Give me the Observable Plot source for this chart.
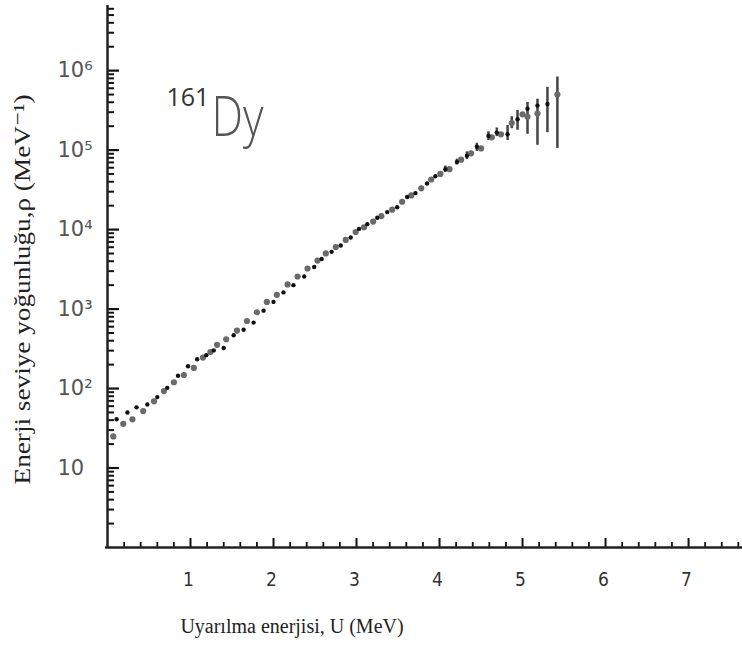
<!DOCTYPE html>
<html>
<head>
<meta charset="utf-8">
<script src="https://cdn.jsdelivr.net/npm/d3@7"></script>
<script src="https://cdn.jsdelivr.net/npm/@observablehq/plot@0.6"></script>
<style>
  html, body { margin: 0; padding: 0; background: #fff; }
  #chart svg { display: block; background: #fff; }
</style>
</head>
<body>
<div id="chart"></div>
<script>
// Excitation energy U (MeV) and level density rho (MeV^-1)
const U = [0.07,0.11,0.19,0.24,0.30,0.35,0.43,0.48,0.56,0.60,0.68,0.72,0.80,0.85,0.92,0.97,1.04,1.08,1.15,1.19,1.24,1.28,1.32,1.40,1.43,1.52,1.56,1.64,1.68,1.76,1.80,1.88,1.92,2.00,2.04,2.12,2.17,2.24,2.29,2.37,2.41,2.49,2.53,2.58,2.63,2.70,2.75,2.81,2.87,2.93,2.99,3.03,3.09,3.13,3.20,3.25,3.30,3.37,3.43,3.49,3.55,3.61,3.66,3.71,3.78,3.85,3.90,3.95,4.01,4.07,4.12,4.21,4.26,4.33,4.38,4.45,4.50,4.59,4.63,4.69,4.74,4.82,4.87,4.94,5.00,5.06,5.06,5.18,5.18,5.30,5.42];
const rho = [25,41,36,50,41,58,52,63,69,78,93,102,120,145,148,191,182,234,245,263,288,302,355,324,417,468,537,550,708,676,912,955,1230,1230,1510,1620,2040,2000,2570,2570,3240,3390,4070,4270,5010,5250,6030,6310,7410,7940,9330,10200,10700,11700,12600,14100,14800,16600,17800,19100,22400,25700,26900,28800,33100,38000,42700,46800,50100,57500,57500,70800,75900,85100,91200,110000,105000,151000,145000,166000,158000,158000,219000,245000,282000,331000,263000,363000,288000,380000,501000];

// Error bars (lower / upper bounds, MeV^-1)
const errU  = [4.07,4.21,4.33,4.45,4.59,4.69,4.82,4.87,4.94,5.06,5.18,5.30,5.42];
const errLo = [52500,65000,76000,96000,132000,148000,132000,186000,178000,158000,115000,166000,105000];
const errHi = [63000,77000,95000,122000,170000,190000,204000,263000,316000,398000,437000,617000,832000];

// Axis ticks and labels
const xTicks = [1,2,3,4,5,6,7];
const yTicks = [10,100,1000,10000,100000,1000000];
const yTickLabels = ["10","10²","10³","10⁴","10⁵","10⁶"];
const yTitle = "Enerji seviye yoğunluğu,ρ (MeV⁻¹)";
const xTitle = "Uyarılma enerjisi, U (MeV)";

const points = U.map((u, i) => ({U: u, rho: rho[i], k: i % 2}));
const errs = errU.map((u, i) => ({U: u, lo: errLo[i], hi: errHi[i]}));
const xMinor = d3.range(1, 39).map(i => i / 5).filter(v => Math.abs(v - Math.round(v)) > 1e-9);
const yMinor = [];
for (let e = 0; e <= 6; e++) for (let m = 2; m <= 9; m++) { const v = m * Math.pow(10, e); if (v < 6.6e6) yMinor.push(v); }
const labelOf = new Map(yTicks.map((t, i) => [t, yTickLabels[i]]));
const blank = () => "";

const chart = Plot.plot({
  width: 742,
  height: 645,
  marginLeft: 107,
  marginRight: 0,
  marginTop: 5,
  marginBottom: 98,
  style: {background: "#fff"},
  x: {domain: [0, 7.65], axis: null},
  y: {type: "log", domain: [1, 6.6e6], axis: null},
  marks: [
    // inward tick marks (outward ticks shifted inside the frame)
    Plot.axisY({ticks: yMinor, tickSize: 7, dx: 7, tickFormat: blank, label: null, stroke: "#111", strokeWidth: 2}),
    Plot.axisY({ticks: yTicks, tickSize: 12, dx: 12, tickFormat: blank, label: null, stroke: "#111", strokeWidth: 2.2}),
    Plot.axisX({ticks: xMinor, tickSize: 5, dy: -5, tickFormat: blank, label: null, stroke: "#111", strokeWidth: 1.8}),
    Plot.axisX({ticks: xTicks, tickSize: 9, dy: -9, tickFormat: blank, label: null, stroke: "#111", strokeWidth: 2}),
    // x tick labels
    Plot.text(xTicks, {x: d => d, frameAnchor: "bottom", lineAnchor: "top", dy: 25, dx: -2,
      text: d => String(d), fontSize: 19,
      fontFamily: "'Liberation Sans Narrow', 'DejaVu Sans Condensed', 'Roboto', sans-serif", fill: "#333"}),
    // y tick labels
    Plot.text(yTicks, {y: d => d, frameAnchor: "left", textAnchor: "start", dx: -50, dy: 0,
      text: d => labelOf.get(d), fontSize: 21, fontFamily: "'DejaVu Sans', sans-serif", fill: "#555"}),
    // axis lines
    Plot.ruleX([0], {stroke: "#222", strokeWidth: 2.5}),
    Plot.ruleY([1], {stroke: "#222", strokeWidth: 2.5, insetLeft: -2}),
    // error bars
    Plot.ruleX(errs, {x: "U", y1: "lo", y2: "hi", stroke: "#444", strokeWidth: 2.5}),
    // data
    Plot.dot(points.filter(d => d.k === 0), {x: "U", y: "rho", r: 3.1, fill: "#6a6a6a", stroke: "none"}),
    Plot.dot(points.filter(d => d.k === 1), {x: "U", y: "rho", r: 2.2, fill: "#111", stroke: "none"}),
    // nucleus label
    Plot.text(["161"], {frameAnchor: "top-left", textAnchor: "start", lineAnchor: "bottom", dx: 59, dy: 100,
      fontSize: 25, fontFamily: "'Liberation Sans Narrow', 'Open Sans', sans-serif", fill: "#333"}),
    Plot.text(["Dy"], {frameAnchor: "top-left", textAnchor: "start", lineAnchor: "bottom", dx: 104, dy: 130,
      fontSize: 56, fontWeight: 300, fontFamily: "'Open Sans', sans-serif", fill: "#555", className: "nuc-dy"}),
    // axis titles
    Plot.text([yTitle], {frameAnchor: "left", textAnchor: "middle", rotate: -90, dx: -85, dy: 13,
      fontSize: 23, fontFamily: "'Liberation Serif', 'DejaVu Serif', serif", fill: "#222", className: "ytitle"}),
    Plot.text([xTitle], {frameAnchor: "bottom", textAnchor: "middle", dx: -133, dy: 85,
      fontSize: 20, fontFamily: "'Liberation Serif', 'DejaVu Serif', serif", fill: "#222"})
  ]
});
// stretch / condense a couple of texts to the reference proportions
d3.select(chart).selectAll(".ytitle text").attr("textLength", 390).attr("lengthAdjust", "spacingAndGlyphs");
d3.select(chart).selectAll(".nuc-dy text").attr("textLength", 52).attr("lengthAdjust", "spacingAndGlyphs");
document.getElementById("chart").appendChild(chart);
</script>
</body>
</html>
